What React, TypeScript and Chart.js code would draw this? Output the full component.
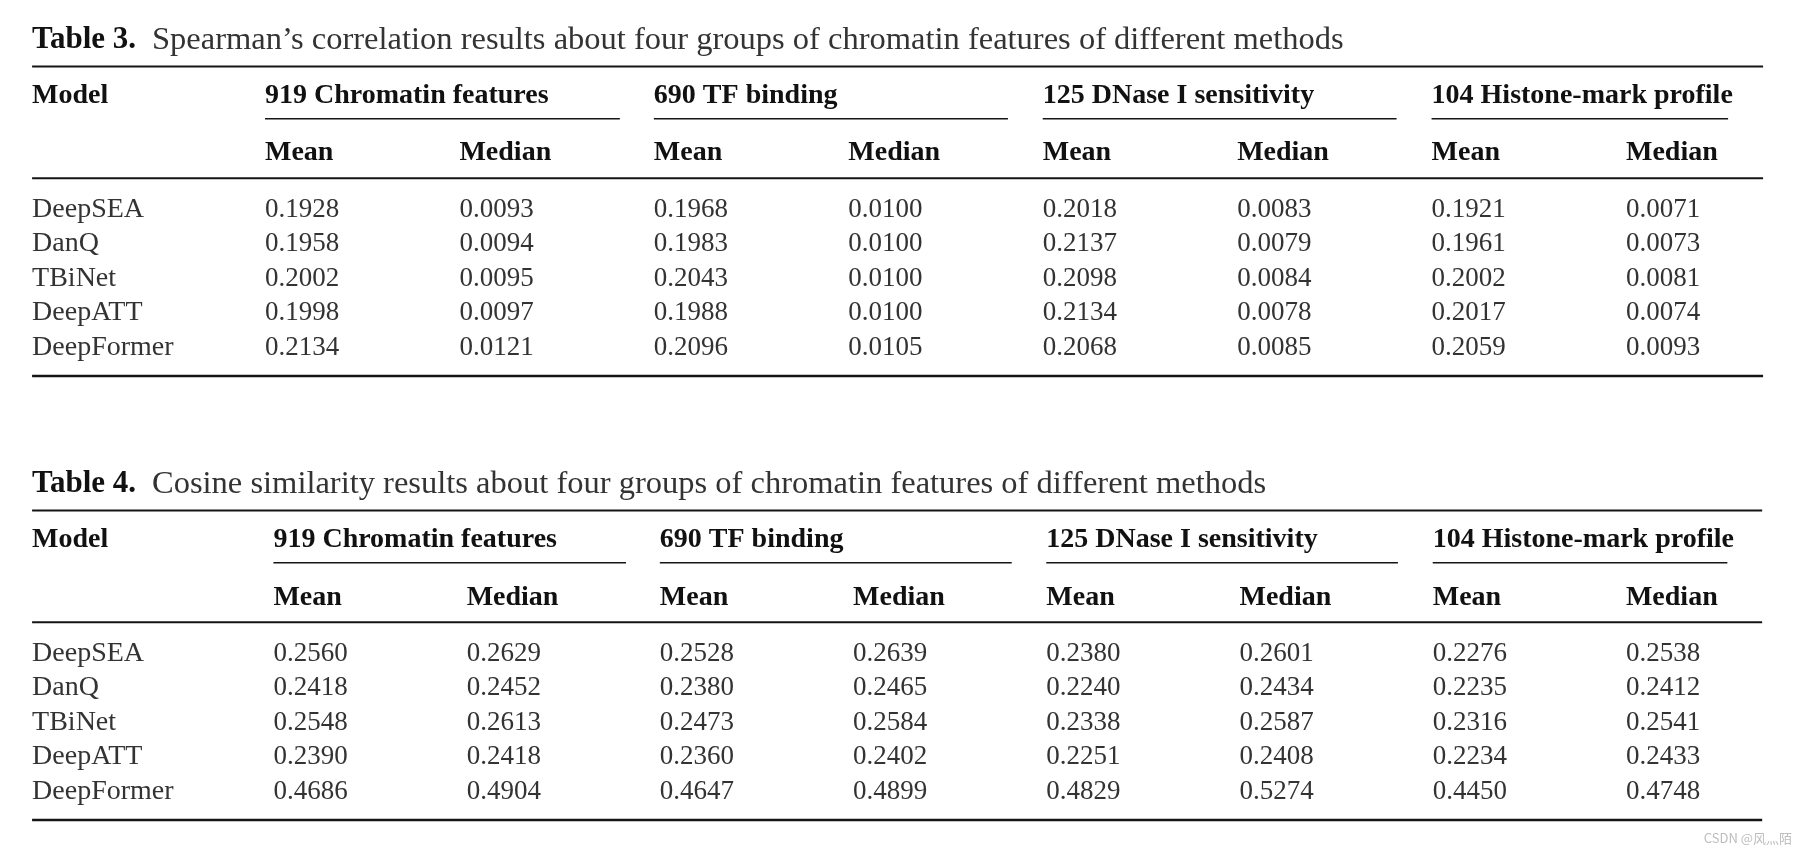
import React, { useEffect, useRef } from "react";
import { Chart, registerables } from "chart.js";

Chart.register(...registerables);

// ---------- data ----------
const models = ["DeepSEA", "DanQ", "TBiNet", "DeepATT", "DeepFormer"];
const groups = ["919 Chromatin features", "690 TF binding", "125 DNase I sensitivity", "104 Histone-mark profile"];
const stats = ["Mean", "Median"];

const table3Title = "Table 3.";
const table3Caption = "Spearman\u2019s correlation results about four groups of chromatin features of different methods";
const table4Title = "Table 4.";
const table4Caption = "Cosine similarity results about four groups of chromatin features of different methods";

const spearman919Mean = [0.1928, 0.1958, 0.2002, 0.1998, 0.2134];
const spearman919Median = [0.0093, 0.0094, 0.0095, 0.0097, 0.0121];
const spearman690Mean = [0.1968, 0.1983, 0.2043, 0.1988, 0.2096];
const spearman690Median = [0.01, 0.01, 0.01, 0.01, 0.0105];
const spearman125Mean = [0.2018, 0.2137, 0.2098, 0.2134, 0.2068];
const spearman125Median = [0.0083, 0.0079, 0.0084, 0.0078, 0.0085];
const spearman104Mean = [0.1921, 0.1961, 0.2002, 0.2017, 0.2059];
const spearman104Median = [0.0071, 0.0073, 0.0081, 0.0074, 0.0093];

const cosine919Mean = [0.256, 0.2418, 0.2548, 0.239, 0.4686];
const cosine919Median = [0.2629, 0.2452, 0.2613, 0.2418, 0.4904];
const cosine690Mean = [0.2528, 0.238, 0.2473, 0.236, 0.4647];
const cosine690Median = [0.2639, 0.2465, 0.2584, 0.2402, 0.4899];
const cosine125Mean = [0.238, 0.224, 0.2338, 0.2251, 0.4829];
const cosine125Median = [0.2601, 0.2434, 0.2587, 0.2408, 0.5274];
const cosine104Mean = [0.2276, 0.2235, 0.2316, 0.2234, 0.445];
const cosine104Median = [0.2538, 0.2412, 0.2541, 0.2433, 0.4748];

const watermark = "CSDN @\u98ce\u706c\u964c";

// ---------- layout (scale units) ----------
const W = 1801;
const H = 852;
const FONT = "'Liberation Serif', 'Times New Roman', serif";
const BODY = `27px ${FONT}`;
const NAME = `28px ${FONT}`;
const BOLD = `bold 28px ${FONT}`;
const TITLE_BOLD = `bold 31px ${FONT}`;
const TITLE_REG = `32.5px ${FONT}`;
const TEXT_COLOR = "#333333";
const HEAD_COLOR = "#111111";
const TEXT_DY = 2.5;

// row positions relative to first data row (row units)
const ROW = { title: -4.9, topRule: -4.07, header: -3.3, underline: -2.56, sub: -1.63, midRule: -0.83, bottomRule: 4.9 };
const MODEL_COL = { t3: -0.198, t4: -0.249 };
const RULE_END = 8.705;
const UNDERLINE_END = [2.825, 4.821, 6.82, 8.525];

function buildTable(
  key: "t3" | "t4",
  title: string,
  caption: string,
  columns: number[][],
) {
  const xAxisID = key === "t3" ? "x3" : "x4";
  const yAxisID = key === "t3" ? "y3" : "y4";
  const mx = MODEL_COL[key];
  const base = { xAxisID, yAxisID, pointRadius: 0, pointHoverRadius: 0, showLine: false };
  const ds: any[] = [];
  // title
  ds.push({ ...base, data: [{ x: mx, y: ROW.title }], rich: [[{ t: title, f: TITLE_BOLD, c: HEAD_COLOR }, { t: caption, f: TITLE_REG, c: TEXT_COLOR, gap: 16 }]] });
  // rules
  const rule = (y: number, x0: number, x1: number, w: number) => ({
    ...base,
    showLine: true,
    borderColor: "#151515",
    borderWidth: w,
    data: [{ x: x0, y }, { x: x1, y }],
  });
  ds.push(rule(ROW.topRule, mx, RULE_END, 2));
  ds.push(rule(ROW.midRule, mx, RULE_END, 2));
  ds.push(rule(ROW.bottomRule, mx, RULE_END, 2.5));
  groups.forEach((g, gi) => ds.push(rule(ROW.underline, gi * 2 + 1, UNDERLINE_END[gi], 1.6)));
  // header texts
  ds.push({ ...base, data: [{ x: mx, y: ROW.header }], texts: ["Model"], font: BOLD, color: HEAD_COLOR });
  ds.push({ ...base, data: groups.map((g, gi) => ({ x: gi * 2 + 1, y: ROW.header })), texts: groups, font: BOLD, color: HEAD_COLOR });
  const subs: string[] = [];
  groups.forEach(() => stats.forEach((s) => subs.push(s)));
  ds.push({ ...base, data: subs.map((s, i) => ({ x: i + 1, y: ROW.sub })), texts: subs, font: BOLD, color: HEAD_COLOR });
  // model names
  ds.push({ ...base, data: models.map((m, i) => ({ x: mx, y: i })), texts: models, font: NAME, color: TEXT_COLOR });
  // value cells
  columns.forEach((col, ci) => {
    ds.push({
      ...base,
      data: col.map((v, ri) => ({ x: ci + 1, y: ri })),
      texts: col.map((v) => v.toFixed(4)),
      font: BODY,
      color: TEXT_COLOR,
    });
  });
  return ds;
}

const textPlugin = {
  id: "tableText",
  afterDatasetsDraw(chart: any) {
    const ctx = chart.ctx;
    chart.data.datasets.forEach((ds: any, i: number) => {
      const meta = chart.getDatasetMeta(i);
      if (ds.texts) {
        ctx.save();
        ctx.font = ds.font;
        ctx.fillStyle = ds.color;
        ctx.textAlign = "left";
        ctx.textBaseline = "middle";
        meta.data.forEach((el: any, j: number) => ctx.fillText(ds.texts[j], el.x, el.y + TEXT_DY));
        ctx.restore();
      }
      if (ds.rich) {
        meta.data.forEach((el: any, j: number) => {
          let x = el.x;
          ds.rich[j].forEach((p: any) => {
            ctx.save();
            ctx.font = p.f;
            ctx.fillStyle = p.c;
            ctx.textAlign = "left";
            ctx.textBaseline = "middle";
            x += p.gap || 0;
            ctx.fillText(p.t, x, el.y + TEXT_DY);
            x += ctx.measureText(p.t).width;
            ctx.restore();
          });
        });
      }
    });
    const a = chart.chartArea;
    ctx.save();
    ctx.font = "13px 'Noto Sans CJK SC', 'DejaVu Sans', sans-serif";
    ctx.fillStyle = "#bdbdbd";
    ctx.textAlign = "right";
    ctx.textBaseline = "middle";
    ctx.fillText(watermark, a.right - 9, a.bottom - 14);
    ctx.restore();
  },
};

export default function App() {
  const ref = useRef<HTMLCanvasElement>(null);
  useEffect(() => {
    if (!ref.current) return;
    const datasets = [
      ...buildTable("t3", table3Title, table3Caption, [
        spearman919Mean, spearman919Median, spearman690Mean, spearman690Median,
        spearman125Mean, spearman125Median, spearman104Mean, spearman104Median,
      ]),
      ...buildTable("t4", table4Title, table4Caption, [
        cosine919Mean, cosine919Median, cosine690Mean, cosine690Median,
        cosine125Mean, cosine125Median, cosine104Mean, cosine104Median,
      ]),
    ];
    const hidden = { display: false, bounds: "data" as const, grid: { display: false } };
    const chart = new Chart(ref.current, {
      type: "scatter",
      data: { datasets },
      options: {
        animation: false,
        responsive: false,
        devicePixelRatio: 1,
        events: [],
        layout: { padding: 0 },
        plugins: { legend: { display: false }, tooltip: { enabled: false } },
        scales: {
          x3: { ...hidden, type: "linear", position: "bottom", min: -0.363, max: 8.9 },
          x4: { ...hidden, type: "linear", position: "bottom", min: -0.415, max: 8.906 },
          y3: { ...hidden, type: "linear", position: "left", reverse: true, min: -6.0, max: 18.696 },
          y4: { ...hidden, type: "linear", position: "left", reverse: true, min: -18.87, max: 5.826 },
        },
      } as any,
      plugins: [textPlugin],
    });
    return () => chart.destroy();
  }, []);
  return (
    <div style={{ position: "fixed", left: 0, top: 0, width: W, height: H, background: "#ffffff" }}>
      <canvas ref={ref} width={W} height={H} style={{ display: "block", width: W, height: H }} />
    </div>
  );
}
